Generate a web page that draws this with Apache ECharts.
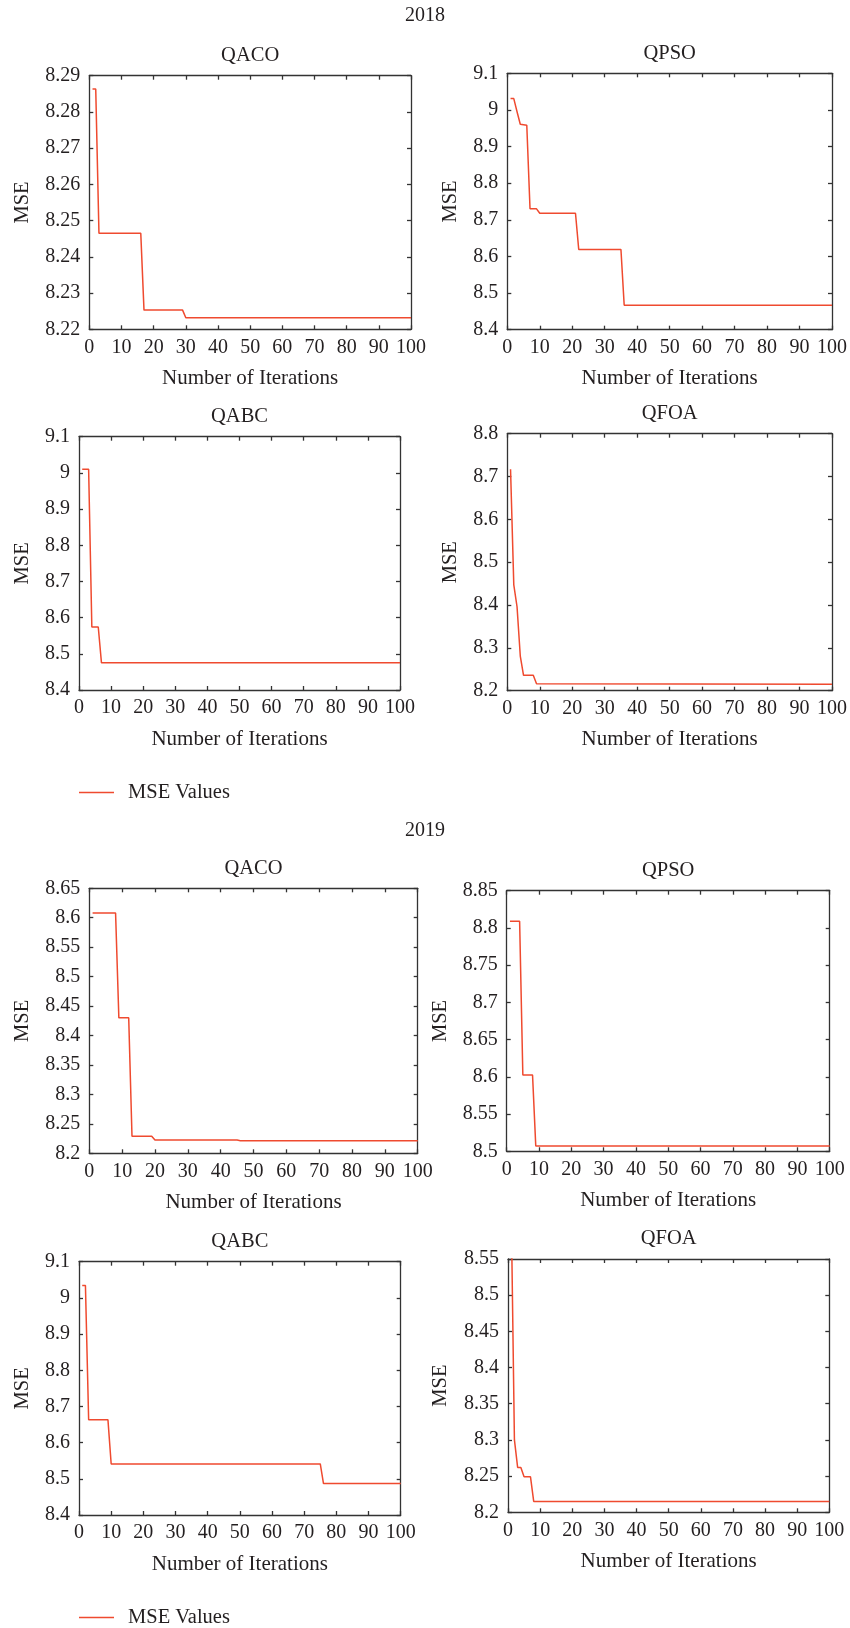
<!DOCTYPE html>
<html>
<head>
<meta charset="utf-8">
<script src="https://cdn.jsdelivr.net/npm/echarts@6/dist/echarts.min.js"></script>
<style>html,body{margin:0;padding:0;background:#fff}#c{width:850px;height:1628px}</style>
</head>
<body>
<div id="c"></div>
<script>
// ---- Data (vertices of each convergence curve) ----
const yearTitles = ['2018', '2019'];
const panelTitles = ['QACO', 'QPSO', 'QABC', 'QFOA', 'QACO', 'QPSO', 'QABC', 'QFOA'];
const seriesName = 'MSE Values';
const xTicks = [0, 100, 10];

const qaco2018 = [[1, 8.2863], [2, 8.2863], [3, 8.2465], [16, 8.2465], [17, 8.2253], [29, 8.2253], [30, 8.2232], [100, 8.2232]];
const qpso2018 = [[1, 9.031], [2, 9.031], [3, 8.995], [4, 8.961], [6, 8.958], [7, 8.730], [9, 8.730], [10, 8.718], [21, 8.718], [22, 8.619], [35, 8.619], [36, 8.467], [100, 8.467]];
const qabc2018 = [[1, 9.010], [3, 9.010], [4, 8.574], [6, 8.574], [7, 8.475], [100, 8.475]];
const qfoa2018 = [[1, 8.717], [2, 8.447], [3, 8.396], [4, 8.281], [5, 8.236], [8, 8.236], [9, 8.216], [100, 8.215]];
const qaco2019 = [[1, 8.608], [8, 8.608], [9, 8.430], [12, 8.430], [13, 8.229], [19, 8.229], [20, 8.2225], [45, 8.2225], [46, 8.2215], [100, 8.2215]];
const qpso2019 = [[1, 8.809], [4, 8.809], [5, 8.6025], [8, 8.6025], [9, 8.507], [100, 8.507]];
const qabc2019 = [[1, 9.034], [2, 9.034], [3, 8.663], [9, 8.663], [10, 8.541], [75, 8.541], [76, 8.487], [100, 8.487]];
const qfoa2019 = [[1, 8.620], [2, 8.300], [3, 8.262], [4, 8.262], [5, 8.249], [7, 8.249], [8, 8.215], [100, 8.215]];

// y-axis ranges [min, max, interval]
const yRanges = [
  [8.22, 8.29, 0.01], [8.4, 9.1, 0.1], [8.4, 9.1, 0.1], [8.2, 8.8, 0.1],
  [8.2, 8.65, 0.05], [8.5, 8.85, 0.05], [8.4, 9.1, 0.1], [8.2, 8.55, 0.05]
];
const allData = [qaco2018, qpso2018, qabc2018, qfoa2018, qaco2019, qpso2019, qabc2019, qfoa2019];

// ---- Layout ----
const grids = [
  {left: 89.3, top: 75.7, width: 321.7, height: 253.6},
  {left: 507.3, top: 73.3, width: 324.7, height: 256.4},
  {left: 79, top: 436.7, width: 321, height: 253.3},
  {left: 507.3, top: 433.7, width: 324.7, height: 257},
  {left: 89.3, top: 888.3, width: 328.4, height: 265},
  {left: 506.7, top: 890.7, width: 323, height: 260.6},
  {left: 79, top: 1261.7, width: 321.7, height: 253.3},
  {left: 508, top: 1259, width: 321.3, height: 253.3}
];
const yNameGaps = [56, 45.7, 45.7, 45.7, 56, 56, 45.7, 56.4];

const FONT = '"Liberation Serif", "Times New Roman", serif';
const TXT = '#231f20';
const AX = '#333333';
const RED = '#ef4a2f';

const titles = [];
yearTitles.forEach((t, i) => {
  titles.push({text: t, left: 425, top: i === 0 ? 5.5 : 820.5, textAlign: 'center', padding: 0,
    textStyle: {fontFamily: FONT, fontSize: 20, fontWeight: 'normal', color: TXT}});
});
panelTitles.forEach((t, i) => {
  const g = grids[i];
  titles.push({text: t, left: g.left + g.width / 2, top: g.top - 30.5, textAlign: 'center', padding: 0,
    textStyle: {fontFamily: FONT, fontSize: 20.5, fontWeight: 'normal', color: TXT}});
});

const fmt = v => String(+(+v).toFixed(3));
const xAxis = [], yAxis = [], series = [];
grids.forEach((g, i) => {
  const axisLine = {show: true, onZero: false, lineStyle: {color: AX, width: 1.3}};
  const tick = {show: true, inside: true, length: 4, lineStyle: {color: AX, width: 1.3}};
  xAxis.push({type: 'value', gridIndex: i, position: 'bottom', min: xTicks[0], max: xTicks[1], interval: xTicks[2],
    axisLine, axisTick: tick, splitLine: {show: false},
    axisLabel: {fontFamily: FONT, fontSize: 20, color: TXT, margin: 8, formatter: fmt},
    name: 'Number of Iterations', nameLocation: 'middle', nameGap: 38.5,
    nameTextStyle: {fontFamily: FONT, fontSize: 21, color: TXT}});
  xAxis.push({type: 'value', gridIndex: i, position: 'top', min: xTicks[0], max: xTicks[1], interval: xTicks[2],
    axisLine, axisTick: tick, splitLine: {show: false}, axisLabel: {show: false}});
  const r = yRanges[i];
  yAxis.push({type: 'value', gridIndex: i, position: 'left', min: r[0], max: r[1], interval: r[2],
    axisLine, axisTick: tick, splitLine: {show: false},
    axisLabel: {fontFamily: FONT, fontSize: 20, color: TXT, margin: 9, formatter: fmt},
    name: 'MSE', nameLocation: 'middle', nameGap: yNameGaps[i], nameRotate: 90,
    nameTextStyle: {fontFamily: FONT, fontSize: 20.5, color: TXT}});
  yAxis.push({type: 'value', gridIndex: i, position: 'right', min: r[0], max: r[1], interval: r[2],
    axisLine, axisTick: tick, splitLine: {show: false}, axisLabel: {show: false}});
  series.push({name: seriesName, type: 'line', xAxisIndex: 2 * i, yAxisIndex: 2 * i,
    data: allData[i], showSymbol: false, symbol: 'none', clip: true,
    lineStyle: {color: RED, width: 1.5}, itemStyle: {color: RED}});
});

const legendCommon = {left: 79, data: [seriesName], icon: 'rect', itemWidth: 35, itemHeight: 1.5,
  padding: 0, selectedMode: false,
  textStyle: {fontFamily: FONT, fontSize: 20.5, color: TXT, padding: [0, 0, 0, 9]}};

const option = {
  animation: false,
  backgroundColor: '#fff',
  title: titles,
  grid: grids,
  xAxis, yAxis, series,
  legend: [Object.assign({top: 782}, legendCommon), Object.assign({top: 1607}, legendCommon)]
};
const chart = echarts.init(document.getElementById('c'), null, {renderer: 'canvas'});
chart.setOption(option);
</script>
</body>
</html>
